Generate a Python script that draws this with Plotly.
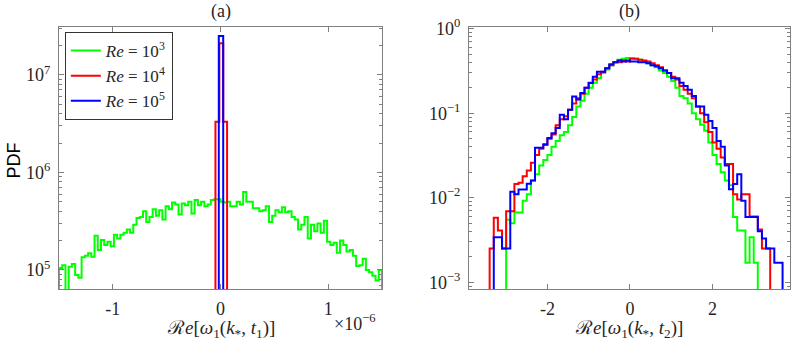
import plotly.graph_objects as go

# ---- data ----
# panel (a): x in units of 1e-6
a_green_start = -1.5
a_green_width = 0.03
a_green_pdf = [
    1.05e5, 1.12e5, 6e4, 1.08e5, 1.15e5, 8.9e4, 8.3e4, 1.35e5, 1.4e5, 1.48e5,
    1.37e5, 2.24e5, 1.6e5, 2.03e5, 1.8e5, 1.95e5, 1.75e5, 2.3e5, 2.1e5, 2.3e5,
    2.4e5, 2.6e5, 2.4e5, 2.9e5, 3.4e5, 3.5e5, 4.0e5, 3.1e5, 3.5e5, 4.2e5,
    3.6e5, 4.1e5, 3.3e5, 4.5e5, 4.2e5, 4.9e5, 4.7e5, 3.7e5, 4.8e5, 4.6e5,
    5.0e5, 3.8e5, 5.2e5, 4.6e5, 5.0e5, 4.5e5, 4.7e5, 5.2e5, 5.3e5, 5.3e5,
    5.0e5, 4.9e5, 5.0e5, 4.5e5, 4.5e5, 5.0e5, 4.7e5, 6.3e5, 5.0e5, 5.0e5,
    4.3e5, 4.3e5, 4.0e5, 4.1e5, 4.5e5, 3.1e5, 3.6e5, 4.1e5, 3.9e5, 4.4e5,
    3.9e5, 4.0e5, 3.5e5, 3.3e5, 2.6e5, 2.9e5, 3.5e5, 2.1e5, 2.9e5, 2.5e5,
    3.0e5, 2.4e5, 3.2e5, 1.95e5, 1.8e5, 1.9e5, 1.5e5, 2.0e5, 1.8e5, 1.55e5,
    1.6e5, 1.4e5, 1.1e5, 1.12e5, 1.3e5, 1.0e5, 9.5e4, 8.7e4, 7.8e4, 1.0e5,
]
a_red_edges = [-0.047, -0.011, 0.025, 0.061]
a_red_pdf = [3.3e6, 2.1e7, 3.3e6]
a_blue_edges = [-0.016, 0.025]
a_blue_pdf = [2.5e7]

# panel (b)
b_width = 0.1
b_green_start = -3.0
b_green_pdf = [
    0.0055, 0.005, 0.0067, 0.0067, 0.0092, 0.011, 0.016, 0.019, 0.024, 0.028,
    0.032, 0.04, 0.047, 0.055, 0.06, 0.072, 0.09, 0.12, 0.14, 0.17,
    0.2, 0.23, 0.26, 0.3, 0.33, 0.37, 0.4, 0.43, 0.44, 0.45,
    0.45, 0.44, 0.43, 0.41, 0.39, 0.37, 0.35, 0.32, 0.30, 0.27,
    0.24, 0.2, 0.16, 0.15, 0.13, 0.1, 0.085, 0.073, 0.062, 0.045,
    0.032, 0.025, 0.02, 0.016, 0.014, 0.0059, 0.0041, 0.0041, 0.0017, 0.0034,
    0.0017,
]
b_red_start = -3.4
b_red_pdf = [
    0.0025, 0.0058, 0.0041, 0.0025, 0.0069, 0.0069, 0.0145, 0.015, 0.018, 0.021,
    0.026, 0.032, 0.038, 0.042, 0.05, 0.056, 0.072, 0.085, 0.092, 0.11,
    0.13, 0.15, 0.17, 0.2, 0.23, 0.25, 0.29, 0.31, 0.34, 0.37,
    0.40, 0.40, 0.42, 0.41, 0.44, 0.44, 0.43, 0.42, 0.41, 0.39,
    0.37, 0.35, 0.32, 0.30, 0.27, 0.25, 0.21, 0.19, 0.17, 0.15,
    0.12, 0.10, 0.078, 0.06, 0.045, 0.038, 0.03, 0.025, 0.025, 0.011,
    0.0095, 0.011, 0.011, 0.006, 0.006, 0.0042, 0.0025, 0.0025,
]
b_blue_start = -3.3
b_blue_pdf = [
    0.0034, 0.0034, 0.0025, 0.0025, 0.0118, 0.011, 0.0125, 0.0125, 0.0146, 0.016,
    0.039, 0.039, 0.043, 0.051, 0.058, 0.067, 0.096, 0.085, 0.11, 0.158,
    0.145, 0.173, 0.2, 0.228, 0.27, 0.31, 0.31, 0.34, 0.38, 0.40,
    0.42, 0.41, 0.42, 0.41, 0.41, 0.40, 0.40, 0.39, 0.37, 0.36,
    0.34, 0.32, 0.30, 0.26, 0.26, 0.23, 0.21, 0.19, 0.16, 0.12,
    0.12, 0.096, 0.081, 0.067, 0.047, 0.04, 0.024, 0.0126, 0.0145, 0.019,
    0.0092, 0.0059, 0.0059, 0.0059, 0.004, 0.0033, 0.0025, 0.0025, 0.0017, 0.0017,
]

labels = ["<i>Re</i> = 10<sup>3</sup>", "<i>Re</i> = 10<sup>4</sup>", "<i>Re</i> = 10<sup>5</sup>"]
colors = ["#00ff00", "#ff0000", "#0000ff"]

SERIF = "Liberation Serif"
GRAY = "#808080"
TXT = "#262626"


def stairs(edges, vals, base):
    # outline of a histogram, like MATLAB's DisplayStyle 'stairs'
    xs = [edges[0]] + list(edges[:-1]) + [edges[-1], edges[-1]]
    ys = [base] + list(vals) + [vals[-1], base]
    return xs, ys


def edges_from(start, width, n, scale=1.0):
    return [(start + i * width) * scale for i in range(n + 1)]


def log_minor(lo, hi):
    return [m * 10 ** d for d in range(lo, hi) for m in range(2, 10)]


fig = go.Figure()

# panel (a)
a_sets = [
    (edges_from(a_green_start, a_green_width, len(a_green_pdf), 1e-6), a_green_pdf),
    ([e * 1e-6 for e in a_red_edges], a_red_pdf),
    ([e * 1e-6 for e in a_blue_edges], a_blue_pdf),
]
for (ed, v), lab, c in zip(a_sets, labels, colors):
    xs, ys = stairs(ed, v, 1e3)
    fig.add_trace(go.Scatter(x=xs, y=ys, mode="lines", line=dict(color=c, width=2, shape="hv"),
                             name=lab, xaxis="x", yaxis="y"))

# panel (b)
b_sets = [
    (edges_from(b_green_start, b_width, len(b_green_pdf)), b_green_pdf),
    (edges_from(b_red_start, b_width, len(b_red_pdf)), b_red_pdf),
    (edges_from(b_blue_start, b_width, len(b_blue_pdf)), b_blue_pdf),
]
for (ed, v), lab, c in zip(b_sets, labels, colors):
    xs, ys = stairs(ed, v, 1e-6)
    fig.add_trace(go.Scatter(x=xs, y=ys, mode="lines", line=dict(color=c, width=2, shape="hv"),
                             name=lab, showlegend=False, xaxis="x2", yaxis="y2"))

ax_common = dict(showline=True, linecolor=GRAY, linewidth=1, mirror="allticks", ticks="inside",
                 ticklen=5, tickcolor=GRAY, showgrid=False, zeroline=False, automargin=False,
                 tickfont=dict(family=SERIF, size=18, color=TXT))


def minor(vals):
    return dict(tickvals=vals, ticks="inside", ticklen=3, tickcolor=GRAY, showgrid=False)


fig.update_layout(
    width=793, height=343,
    margin=dict(l=59, r=3, t=27, b=54, autoexpand=False),
    plot_bgcolor="white", paper_bgcolor="white",
    showlegend=True,
    xaxis=dict(domain=[0, 0.4419], range=[-1.5e-6, 1.5e-6], ticklabelstandoff=3,
               tickvals=[-1e-6, 0, 1e-6], ticktext=["-1", "0", "1"], **ax_common),
    yaxis=dict(type="log", range=[4.805, 7.49], ticklabelstandoff=4,
               tickvals=[1e5, 1e6, 1e7], ticktext=["10<sup>5</sup>", "10<sup>6</sup>", "10<sup>7</sup>"],
               minor=minor(log_minor(4, 8)), **ax_common),
    xaxis2=dict(domain=[0.5609, 1], range=[-3.9, 3.88], anchor="y2", ticklabelstandoff=3,
                tickvals=[-2, 0, 2], ticktext=["-2", "0", "2"], **ax_common),
    yaxis2=dict(type="log", range=[-3.08, 0.02], anchor="x2", ticklabelstandoff=4,
                tickvals=[1e-3, 1e-2, 1e-1, 1],
                ticktext=["10<sup>−3</sup>", "10<sup>−2</sup>", "10<sup>−1</sup>", "10<sup>0</sup>"],
                minor=minor(log_minor(-4, 0)), **ax_common),
    legend=dict(x=0.008, y=0.981, xanchor="left", yanchor="top", bgcolor="white",
                bordercolor="#333333", borderwidth=1, font=dict(family=SERIF, size=17, color=TXT),
                tracegroupgap=0, itemwidth=30),
)

xlab1 = "ℛ<i>e</i>[<i>ω</i><sub>1</sub>(<i>k</i><sub>*</sub>, <i>t</i><sub>1</sub>)]"
xlab2 = "ℛ<i>e</i>[<i>ω</i><sub>1</sub>(<i>k</i><sub>*</sub>, <i>t</i><sub>2</sub>)]"
ann = [
    dict(text="(a)", x=0.221, y=1.06, size=18),
    dict(text="(b)", x=0.7804, y=1.06, size=18),
    dict(text=xlab1, x=0.221, y=-0.152, size=19),
    dict(text=xlab2, x=0.7804, y=-0.152, size=19),
    dict(text="×10<sup>−6</sup>", x=0.405, y=-0.127, size=18),
]
for a in ann:
    size = a.pop("size")
    fig.add_annotation(xref="paper", yref="paper", showarrow=False, xanchor="center", yanchor="middle",
                       font=dict(family=SERIF, size=size, color=TXT), **a)
fig.add_annotation(text="PDF", xref="paper", yref="paper", x=-0.0616, y=0.49, textangle=-90, showarrow=False,
                   xanchor="center", yanchor="middle",
                   font=dict(family="Liberation Sans", size=18, color="#000000"))

fig.write_html("out.html", config={"displayModeBar": False},
               post_script="document.body.style.margin='0';")
